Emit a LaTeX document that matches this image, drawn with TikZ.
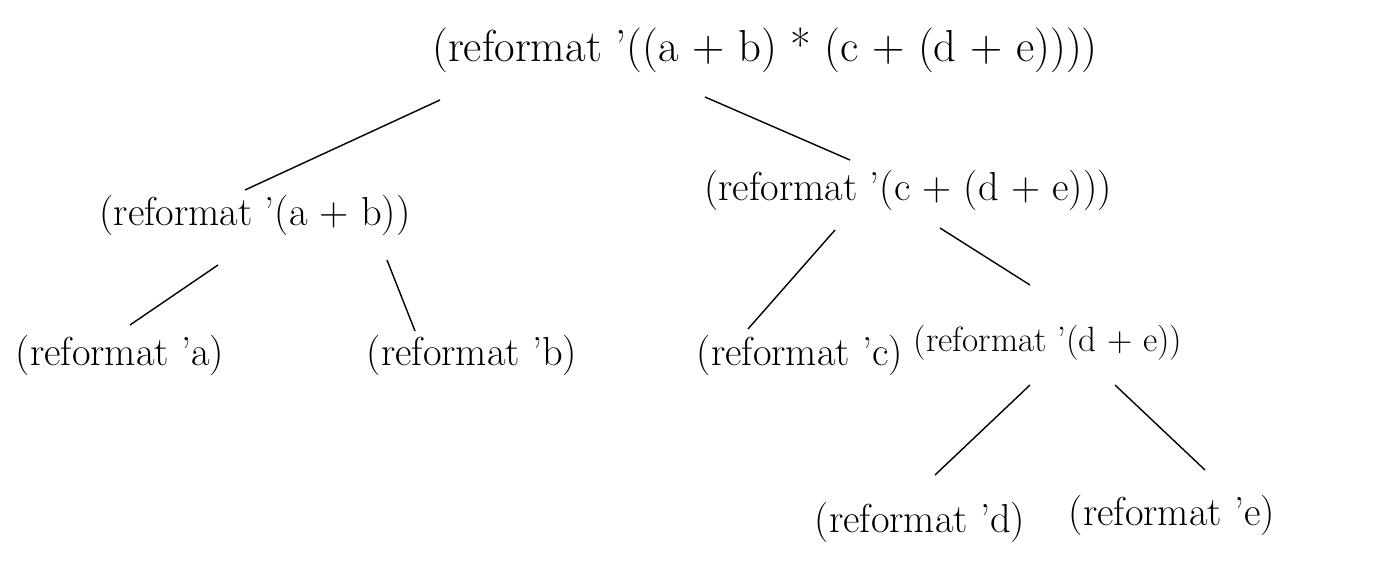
\documentclass[tikz,border=0pt]{standalone}
\begin{document}
\begin{tikzpicture}[x=0.02cm,y=-0.02cm,
  lbl/.style={inner sep=0pt, font=\fontsize{23}{27}\selectfont},
  big/.style={inner sep=0pt, font=\fontsize{25.5}{30}\selectfont},
  small/.style={inner sep=0pt, font=\fontsize{20}{24}\selectfont},
  edge/.style={draw=black, line width=0.8pt}]
\useasboundingbox (0,0) rectangle (1389,561);
\node[big] (root) at (765,50) {(reformat '((a + b) * (c + (d + e))))};
\node[lbl] (l1) at (255,215) {(reformat '(a + b))};
\node[lbl] (r1) at (908,190) {(reformat '(c + (d + e)))};
\node[lbl] (ll) at (120,355) {(reformat 'a)};
\node[lbl] (lr) at (472,355) {(reformat 'b)};
\node[lbl] (rl) at (800,355) {(reformat 'c)};
\node[small] (rr) at (1048,343) {(reformat '(d + e))};
\node[lbl] (rrl) at (920,522) {(reformat 'd)};
\node[lbl] (rrr) at (1172,515) {(reformat 'e)};
\draw[edge] ([shift={(-325,50)}]root.center) -- ([shift={(-10,-25)}]l1.center);
\draw[edge] ([shift={(-60,47)}]root.center) -- ([shift={(-58,-30)}]r1.center);
\draw[edge] ([shift={(-37,50)}]l1.center) -- ([shift={(10,-30)}]ll.center);
\draw[edge] ([shift={(132,45)}]l1.center) -- ([shift={(-57,-24)}]lr.center);
\draw[edge] ([shift={(-73,40)}]r1.center) -- ([shift={(-52,-26)}]rl.center);
\draw[edge] ([shift={(32,38)}]r1.center) -- ([shift={(-18,-58)}]rr.center);
\draw[edge] ([shift={(-18,42)}]rr.center) -- ([shift={(15,-47)}]rrl.center);
\draw[edge] ([shift={(67,42)}]rr.center) -- ([shift={(33,-45)}]rrr.center);
\end{tikzpicture}
\end{document}
